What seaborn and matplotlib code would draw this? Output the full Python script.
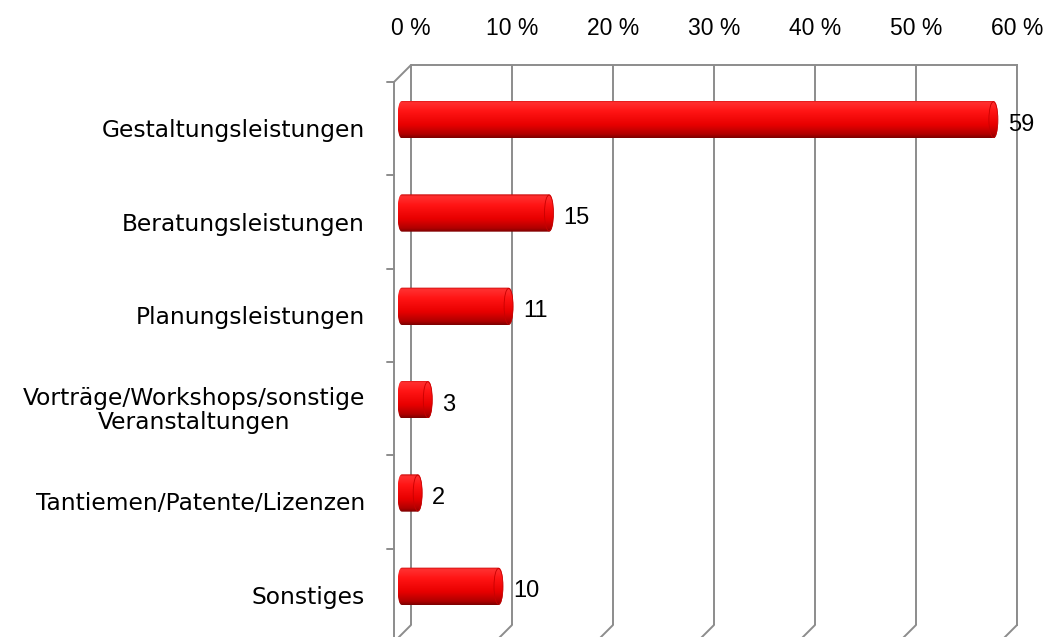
"""
Horizontal cylinder bar chart (Excel-style 3D look) with seaborn
"""
import numpy as np
import pandas as pd
import matplotlib
matplotlib.use("Agg")
import matplotlib.pyplot as plt
from matplotlib.transforms import offset_copy
from matplotlib.patches import FancyBboxPatch, Ellipse
from matplotlib.colors import LinearSegmentedColormap
import seaborn as sns

# data
categories = [
    "Gestaltungsleistungen",
    "Beratungsleistungen",
    "Planungsleistungen",
    "Vorträge/Workshops/sonstige\nVeranstaltungen",
    "Tantiemen/Patente/Lizenzen",
    "Sonstiges",
]
values = [59, 15, 11, 3, 2, 10]
x_ticks = [0, 10, 20, 30, 40, 50, 60]
x_tick_labels = ["0 %", "10 %", "20 %", "30 %", "40 %", "50 %", "60 %"]

df = pd.DataFrame({"Kategorie": categories, "Anteil": values})

sns.set_style("white")
plt.rcParams["font.family"] = ["Liberation Sans", "DejaVu Sans"]
plt.rcParams["text.color"] = "black"
plt.rcParams["xtick.color"] = "black"

W, H, DPI = 1047, 637, 100
px_x = 606 / 60.0      # pixels per x unit (back wall 411..1017 px)
px_y = 560 / 6.0       # pixels per category
depth = 17             # px shift of the front plane
dx, dy = depth / px_x, depth / px_y

fig = plt.figure(figsize=(W / DPI, H / DPI), dpi=DPI)
# axes = back wall of the 3D box, widened to the left wall
ax = fig.add_axes([(411 - depth) / W, (H - 625) / H, (606 + depth) / W, 560 / H])

sns.barplot(data=df, x="Anteil", y="Kategorie", orient="h", color="red",
            width=0.40, ax=ax, zorder=3)

grid_col = "#8c8c8c"
ax.set_xticks(x_ticks)
ax.set_xticklabels(x_tick_labels, fontsize=16.5)
ax.xaxis.tick_top()
ax.tick_params(axis="x", length=0, pad=18, labelcolor="black")
ax.set_yticks([])
ax.set_xlabel("")
ax.set_ylabel("")
ax.grid(axis="x", color=grid_col, linewidth=1.4, zorder=0)
ax.spines["right"].set_color(grid_col)
ax.spines["right"].set_linewidth(1.4)
for side in ["top", "bottom", "left"]:
    ax.spines[side].set_visible(False)

# back wall top edge, left wall and floor diagonals
line_kw = dict(color=grid_col, linewidth=1.4, clip_on=False, zorder=1)
ax.plot([0, 60], [-0.5, -0.5], **line_kw)
ax.plot([-dx, -dx], [-0.5 + dy, 5.5 + dy], **line_kw)
ax.plot([0, -dx], [-0.5, -0.5 + dy], **line_kw)
for k in x_ticks:
    ax.plot([k, k - dx], [5.5, 5.5 + dy], **line_kw)
for b in np.arange(-0.5, 6.0, 1.0):
    ax.plot([-dx - 7 / px_x, -dx], [b + dy, b + dy], **line_kw)

# cylinder bars: shift bars half depth to the front, shade with gradient
bar_trans = offset_copy(ax.transData, fig=fig, x=-9, y=-8, units="dots")
val_trans = offset_copy(ax.transData, fig=fig, x=-9, y=-13, units="dots")
cyl = LinearSegmentedColormap.from_list(
    "cyl", [(0.0, "#c00000"), (0.06, "#ff3030"), (0.3, "#ff1414"),
            (0.65, "#e80000"), (0.9, "#b00000"), (1.0, "#7a0000")])
grad = np.linspace(0, 1, 256).reshape(-1, 1)
cap_r = 4.5 / px_x
for p, v in zip(ax.patches, values):
    x0, y0, w, h = p.get_x(), p.get_y(), p.get_width(), p.get_height()
    p.set_visible(False)
    body = FancyBboxPatch((x0 - cap_r, y0), w + cap_r, h,
                          boxstyle=f"round,pad=0,rounding_size={cap_r}",
                          mutation_aspect=(h / 2) / cap_r,
                          transform=bar_trans, facecolor="none",
                          edgecolor="none", zorder=3)
    ax.add_patch(body)
    im = ax.imshow(grad, cmap=cyl, aspect="auto", interpolation="bilinear",
                   extent=(x0 - cap_r, x0 + w, y0 + h, y0),
                   transform=bar_trans, zorder=3)
    im.set_clip_path(body)
    cap = Ellipse((x0 + w - cap_r, y0 + h / 2), 2 * cap_r, h * 0.96,
                  transform=bar_trans, facecolor="none", edgecolor="#c80000",
                  linewidth=0.6, zorder=4)
    ax.add_patch(cap)
    ax.text(x0 + w + 10 / px_x, y0 + h / 2, f"{v}", transform=val_trans,
            ha="left", va="center", fontsize=17, color="black", zorder=5)

ax.set_xlim(-dx, 60)
ax.set_ylim(5.5, -0.5)

# category labels on the front plane
lab_trans = offset_copy(ax.transData, fig=fig, x=-46, y=-19, units="dots")
for i, c in enumerate(categories):
    ax.text(0, i, c, transform=lab_trans, ha="right", va="center",
            multialignment="center", fontsize=16.8, linespacing=1.05,
            color="black", family=["DejaVu Sans"])

fig.savefig("out.png", dpi=DPI, facecolor="white")
